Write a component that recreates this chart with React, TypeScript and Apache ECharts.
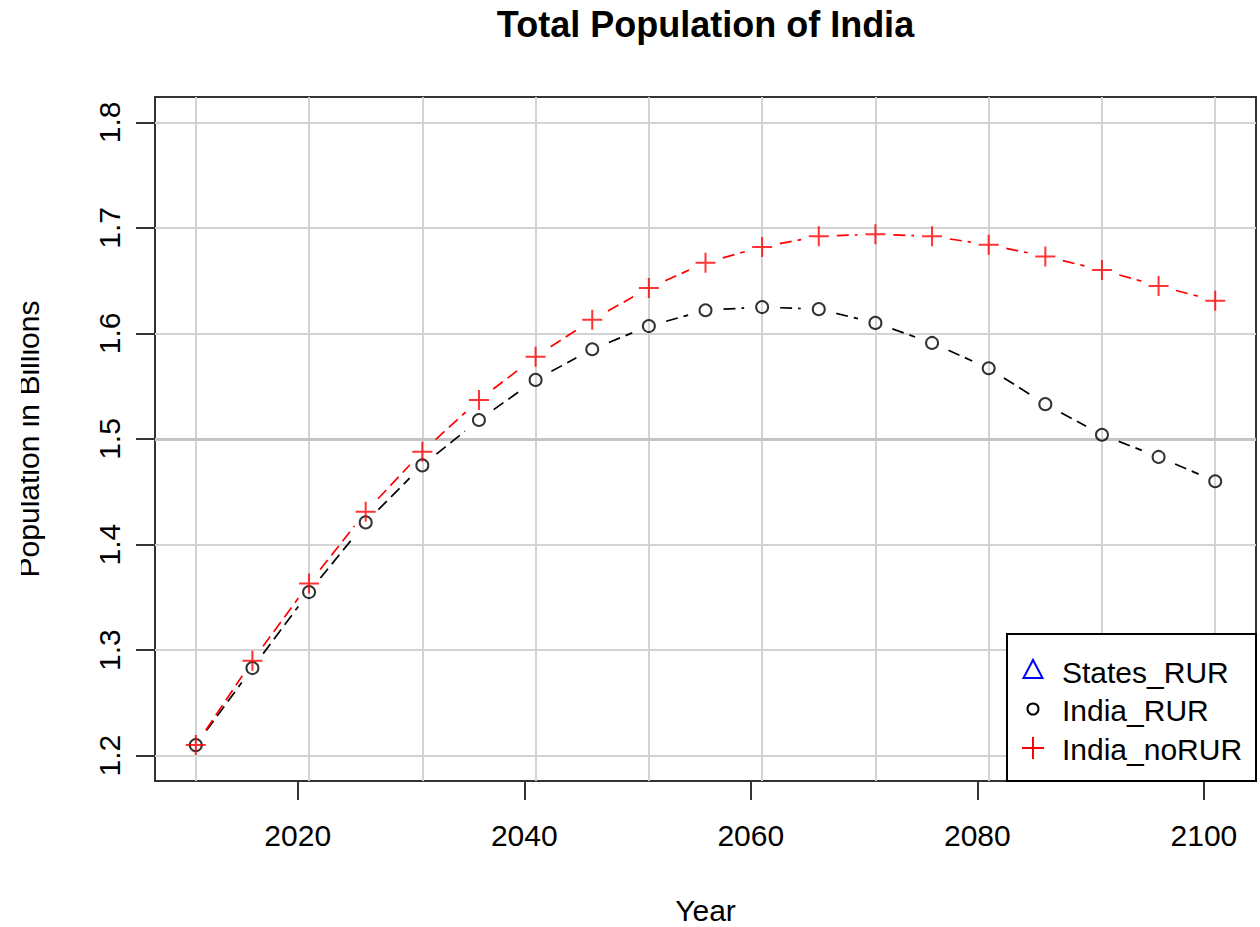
import React, { useEffect, useRef } from "react";
import * as echarts from "echarts";

// ---- data ----
const years = [2011, 2016, 2021, 2026, 2031, 2036, 2041, 2046, 2051, 2056, 2061, 2066, 2071, 2076, 2081, 2086, 2091, 2096, 2101];
const indiaRUR = [1.210, 1.283, 1.355, 1.421, 1.475, 1.518, 1.556, 1.585, 1.607, 1.622, 1.625, 1.623, 1.610, 1.591, 1.567, 1.533, 1.504, 1.483, 1.460];
const indiaNoRUR = [1.210, 1.290, 1.363, 1.431, 1.488, 1.537, 1.578, 1.613, 1.643, 1.667, 1.682, 1.692, 1.694, 1.692, 1.684, 1.673, 1.660, 1.645, 1.631];
const statesRUR: number[][] = []; // present in legend only
const xTickValues = [2020, 2040, 2060, 2080, 2100];
const yTickValues = [1.2, 1.3, 1.4, 1.5, 1.6, 1.7, 1.8];
const gridYears = [2011, 2021, 2031, 2041, 2051, 2061, 2071, 2081, 2091, 2101];
const legendNames = ["States_RUR", "India_RUR", "India_noRUR"];
const titleText = "Total Population of India";
const xTitle = "Year";
const yTitle = "Population in Billions";

const FONT = "'Liberation Sans', Arial, Helvetica, sans-serif";
const PLUS = "path://M0,9 L20,9 L20,11 L0,11 Z M9,0 L11,0 L11,20 L9,20 Z";

function segments(xs: number[], ys: number[]) {
  return xs.slice(0, -1).map((x, i) => [x, ys[i], xs[i + 1], ys[i + 1]]);
}

function gappedLine(color: string, gap: number) {
  return (_p: any, api: any) => {
    const p0 = api.coord([api.value(0), api.value(1)]);
    const p1 = api.coord([api.value(2), api.value(3)]);
    const dx = p1[0] - p0[0];
    const dy = p1[1] - p0[1];
    const len = Math.hypot(dx, dy);
    if (len <= 2 * gap) return null;
    const ux = dx / len, uy = dy / len;
    return {
      type: "line",
      shape: { x1: p0[0] + ux * gap, y1: p0[1] + uy * gap, x2: p1[0] - ux * gap, y2: p1[1] - uy * gap },
      style: { stroke: color, lineWidth: 1.7, lineDash: [12, 6], fill: null },
    };
  };
}

export default function App() {
  const ref = useRef<HTMLDivElement>(null);
  useEffect(() => {
    if (!ref.current) return;
    const chart = echarts.init(ref.current, null, { renderer: "svg" });
    const gridLine = { color: "#d3d3d3", width: 2, type: "solid" };
    const option: any = {
      animation: false,
      backgroundColor: "#ffffff",
      textStyle: { fontFamily: FONT },
      grid: { left: 155, right: 4, top: 97, bottom: 146, show: true, borderColor: "#333", borderWidth: 2, backgroundColor: "transparent" },
      xAxis: {
        type: "value",
        min: 2007.4,
        max: 2104.6,
        axisLine: { show: false },
        splitLine: { show: false },
        axisTick: { show: true, length: 19, customValues: xTickValues, lineStyle: { color: "#333", width: 2 } },
        axisLabel: { customValues: xTickValues, fontSize: 30, color: "#000", margin: 39, fontFamily: FONT, formatter: (v: number) => String(v) },
      },
      yAxis: {
        type: "value",
        min: 1.176,
        max: 1.824,
        axisLine: { show: false },
        splitLine: { show: false },
        axisTick: { show: true, length: 19, customValues: yTickValues, lineStyle: { color: "#333", width: 2 } },
        axisLabel: { customValues: yTickValues, rotate: 90, fontSize: 30, color: "#000", margin: 31, fontFamily: FONT, formatter: (v: number) => v.toFixed(1) },
      },
      series: [
        {
          type: "scatter",
          name: "grid",
          data: [],
          silent: true,
          z: 1,
          markLine: {
            silent: true,
            z: 1,
            symbol: "none",
            label: { show: false },
            lineStyle: gridLine,
            data: [
              ...gridYears.map((y) => ({ xAxis: y })),
              ...yTickValues.map((v) => (v === 1.5 ? { yAxis: v, lineStyle: { color: "#c4c4c4", width: 3, type: "solid" } } : { yAxis: v })),
            ],
          },
        },
        {
          type: "custom",
          name: "India_RUR_line",
          data: segments(years, indiaRUR),
          encode: { x: [0, 2], y: [1, 3] },
          renderItem: gappedLine("#000000", 18),
          silent: true,
          z: 2,
        },
        {
          type: "custom",
          name: "India_noRUR_line",
          data: segments(years, indiaNoRUR),
          encode: { x: [0, 2], y: [1, 3] },
          renderItem: gappedLine("#ff0000", 18),
          silent: true,
          z: 2,
        },
        {
          type: "scatter",
          name: legendNames[0],
          data: statesRUR,
          symbol: "triangle",
          itemStyle: { color: "transparent", borderColor: "#0000ff", borderWidth: 2 },
          z: 3,
        },
        {
          type: "scatter",
          name: legendNames[1],
          data: years.map((y, i) => [y, indiaRUR[i]]),
          symbol: "circle",
          symbolSize: 12,
          itemStyle: { color: "transparent", borderColor: "#000000", borderWidth: 2 },
          z: 3,
        },
        {
          type: "scatter",
          name: legendNames[2],
          data: years.map((y, i) => [y, indiaNoRUR[i]]),
          symbol: PLUS,
          symbolSize: 20,
          itemStyle: { color: "#ff0000" },
          z: 4,
        },
      ],
      graphic: [
        { type: "text", x: 705.5, y: 24, z: 10, style: { text: titleText, fontFamily: FONT, fontSize: 36, fontWeight: "bold", fill: "#000", textAlign: "center", textVerticalAlign: "middle" } },
        { type: "text", x: 705.5, y: 910, z: 10, style: { text: xTitle, fontFamily: FONT, fontSize: 30, fill: "#000", textAlign: "center", textVerticalAlign: "middle" } },
        { type: "text", x: 28, y: 439, rotation: Math.PI / 2, z: 10, style: { text: yTitle, fontFamily: FONT, fontSize: 30, fill: "#000", textAlign: "center", textVerticalAlign: "middle" } },
        { type: "rect", z: 11, shape: { x: 0, y: 200, width: 21, height: 480 }, style: { fill: "#fff" } },
        // legend box
        { type: "rect", z: 20, shape: { x: 1007, y: 634, width: 249, height: 147 }, style: { fill: "#fff", stroke: "#000", lineWidth: 2 } },
        { type: "polygon", z: 21, shape: { points: [[1023.5, 678], [1042.5, 678], [1033, 660]] }, style: { fill: "none", stroke: "#0000ff", lineWidth: 2 } },
        { type: "circle", z: 21, shape: { cx: 1033, cy: 709, r: 5.5 }, style: { fill: "none", stroke: "#000", lineWidth: 2 } },
        { type: "line", z: 21, shape: { x1: 1022, y1: 748, x2: 1044, y2: 748 }, style: { stroke: "#ff0000", lineWidth: 2 } },
        { type: "line", z: 21, shape: { x1: 1033, y1: 737, x2: 1033, y2: 759 }, style: { stroke: "#ff0000", lineWidth: 2 } },
        { type: "text", z: 21, x: 1062, y: 672, style: { text: legendNames[0], fontFamily: FONT, fontSize: 30, fill: "#000", textAlign: "left", textVerticalAlign: "middle" } },
        { type: "text", z: 21, x: 1062, y: 710.5, style: { text: legendNames[1], fontFamily: FONT, fontSize: 30, fill: "#000", textAlign: "left", textVerticalAlign: "middle" } },
        { type: "text", z: 21, x: 1062, y: 749, style: { text: legendNames[2], fontFamily: FONT, fontSize: 30, fill: "#000", textAlign: "left", textVerticalAlign: "middle" } },
      ],
    };
    chart.setOption(option);
    return () => chart.dispose();
  }, []);
  return <div ref={ref} style={{ position: "absolute", left: 0, top: 0, width: 1260, height: 927 }} />;
}
